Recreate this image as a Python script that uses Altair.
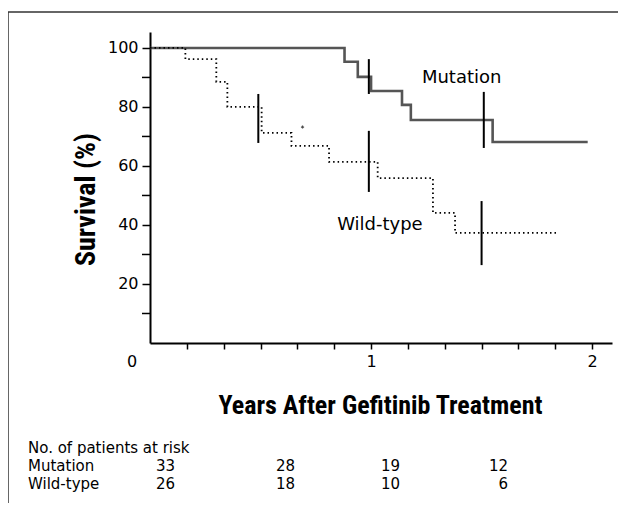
import altair as alt
import pandas as pd

# ---- data ----
mut_t = [0, 0.88, 0.94, 1.00, 1.14, 1.18, 1.55, 1.98]
mut_s = [100, 95.3, 90.2, 85.4, 80.7, 75.6, 68.1, 68.1]
wt_t = [0, 0.16, 0.30, 0.35, 0.505, 0.64, 0.81, 1.03, 1.28, 1.38, 1.85]
wt_s = [100, 96.2, 88.5, 80.0, 71.2, 66.8, 61.4, 55.9, 44.1, 37.3, 37.3]

ci_group = ["Mutation", "Mutation", "Wild-type", "Wild-type", "Wild-type"]
ci_t = [0.99, 1.51, 0.49, 0.99, 1.50]
ci_lo = [84.4, 66.1, 67.8, 51.2, 26.4]
ci_hi = [96.2, 85.1, 84.4, 71.9, 48.1]

censor_t = [0.69]
censor_s = [73.2]

group_labels = ["Mutation", "Wild-type"]
label_t = [1.41, 1.04]
label_s = [89.8, 40.0]

risk_rows = ["Mutation", "Wild-type"]
risk_mut = [33, 28, 19, 12]
risk_wt = [26, 18, 10, 6]

y_major = [20, 40, 60, 80, 100]
y_minor = [10, 30, 50, 70, 90]
x_ticks = [0.1667, 0.3333, 0.5, 0.6667, 0.8333, 1, 1.1667, 1.3333, 1.5, 1.6667, 1.8333, 2]

# ---- layout (pixels, relative to plot area) ----
W, H = 462, 311
col_right = [25, 145, 250, 358]
row_y = {"header": 416, "Mutation": 434, "Wild-type": 452}
FONT = "DejaVu Sans"
BOLD_NARROW = "Roboto Condensed, Roboto, sans-serif"

xs = alt.Scale(domain=[0, 2.09], nice=False, zero=False)
ys = alt.Scale(domain=[0, 105.4], nice=False)

mut_df = pd.DataFrame({"t": mut_t, "s": mut_s})
wt_df = pd.DataFrame({"t": wt_t, "s": wt_s})
ci_df = pd.DataFrame({"g": ci_group, "t": ci_t, "lo": ci_lo, "hi": ci_hi})
cens_df = pd.DataFrame({"t": censor_t, "s": censor_s})
lab_df = pd.DataFrame({"g": group_labels, "t": label_t, "s": label_s})
minor_df = pd.DataFrame({"v": y_minor})

x_axis = alt.Axis(values=x_ticks,
                  labelExpr="datum.value == 1 ? '1' : (datum.value == 2 ? '2' : '')",
                  title="Years After Gefitinib Treatment",
                  titleFont=BOLD_NARROW, titleFontSize=26, titleFontWeight="bold",
                  titleX=230, titleY=62, titleBaseline="middle", titleAlign="center",
                  tickSize=6, tickWidth=1.5, domainWidth=2, domainColor="black",
                  tickColor="black", labelFont=FONT, labelFontSize=16,
                  labelColor="black", labelPadding=4, grid=False, labelFlush=False,
                  labelOverlap=False)
y_axis = alt.Axis(values=y_major, format="d",
                  title="Survival (%)",
                  titleFont=BOLD_NARROW, titleFontSize=28, titleFontWeight="bold",
                  titleX=-64, titleY=167, titleAngle=-90, titleBaseline="middle",
                  titleAlign="center",
                  tickSize=8, tickWidth=1.5, domainWidth=2, domainColor="black",
                  tickColor="black", labelFont=FONT, labelFontSize=16,
                  labelColor="black", labelPadding=4, grid=False, labelOverlap=False,
                  labelFlush=False)

mut_line = alt.Chart(mut_df).mark_line(interpolate="step-after", color="#555555",
                                       strokeWidth=2.6).encode(
    x=alt.X("t:Q", scale=xs, axis=x_axis),
    y=alt.Y("s:Q", scale=ys, axis=y_axis))

wt_line = alt.Chart(wt_df).mark_line(interpolate="step-after", color="black",
                                     strokeWidth=1.8, strokeDash=[1.5, 3]).encode(
    x=alt.X("t:Q", scale=xs), y=alt.Y("s:Q", scale=ys))

# minor y ticks (10, 30, ... 90)
minor = alt.Chart(minor_df).mark_rule(color="black", strokeWidth=1.5).encode(
    x=alt.value(-8), x2=alt.value(0), y=alt.Y("v:Q", scale=ys))

ci = alt.Chart(ci_df).mark_rule(color="black", strokeWidth=2).encode(
    x=alt.X("t:Q", scale=xs), y=alt.Y("lo:Q", scale=ys), y2="hi:Q")

cens = alt.Chart(cens_df).mark_point(shape="cross", size=10, filled=True,
                                     color="black").encode(
    x=alt.X("t:Q", scale=xs), y=alt.Y("s:Q", scale=ys))

labels = alt.Chart(lab_df).mark_text(font=FONT, fontSize=18, color="black").encode(
    x=alt.X("t:Q", scale=xs), y=alt.Y("s:Q", scale=ys), text="g:N")

zero = alt.Chart(pd.DataFrame({"txt": ["0"]})).mark_text(
    font=FONT, fontSize=16, color="black").encode(
    x=alt.value(-18), y=alt.value(330), text="txt:N")

# risk table
rows = [{"txt": "No. of patients at risk", "px": -122, "py": row_y["header"], "al": "left"}]
for name, counts in zip(risk_rows, [risk_mut, risk_wt]):
    rows.append({"txt": name, "px": -122, "py": row_y[name], "al": "left"})
    for c, xr in zip(counts, col_right):
        rows.append({"txt": str(c), "px": xr, "py": row_y[name], "al": "right"})
risk_df = pd.DataFrame(rows)
risk_left = alt.Chart(risk_df[risk_df.al == "left"]).mark_text(
    font=FONT, fontSize=15, color="black", align="left", baseline="middle").encode(
    x=alt.X("px:Q", scale=None), y=alt.Y("py:Q", scale=None), text="txt:N")
risk_right = alt.Chart(risk_df[risk_df.al == "right"]).mark_text(
    font=FONT, fontSize=15, color="black", align="right", baseline="middle").encode(
    x=alt.X("px:Q", scale=None), y=alt.Y("py:Q", scale=None), text="txt:N")

# frame lines (top and left)
frame_top = alt.Chart(pd.DataFrame({"a": [0]})).mark_rule(color="#333", strokeWidth=1.5).encode(
    x=alt.value(-142), x2=alt.value(468), y=alt.value(-20))
frame_left = alt.Chart(pd.DataFrame({"a": [0]})).mark_rule(color="#333", strokeWidth=1.5).encode(
    x=alt.value(-142), y=alt.value(-20), y2=alt.value(480))

chart = alt.layer(mut_line, wt_line, minor, ci, cens, labels, zero, risk_left, risk_right,
                  frame_top, frame_left).properties(
    width=W, height=H,
    autosize=alt.AutoSizeParams(type="none"),
    padding={"left": 142, "top": 24, "right": 6, "bottom": 160},
    background="white",
).configure_view(stroke=None)

chart.save("out.html", embed_options={"renderer": "svg", "actions": False})
